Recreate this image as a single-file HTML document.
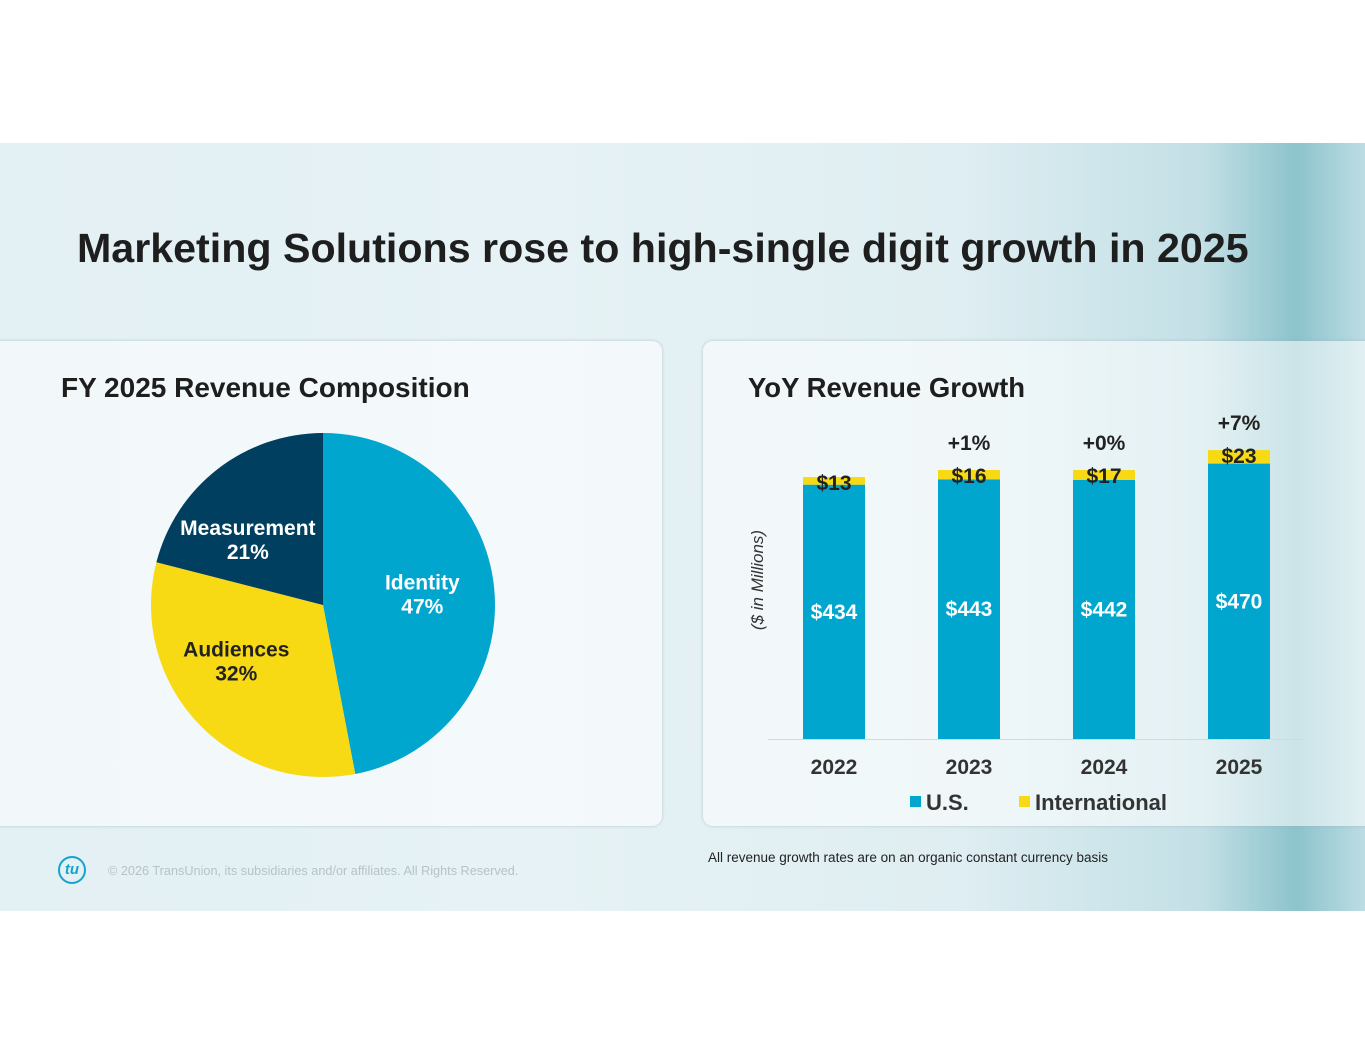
<!DOCTYPE html>
<html><head><meta charset="utf-8"><style>
body{margin:0;width:1365px;height:1055px;background:#fff;position:relative;overflow:hidden;font-family:"Liberation Sans",Arial,sans-serif}
#slide{position:absolute;left:0;top:143px;width:1365px;height:768px;background:linear-gradient(90deg,#e3f0f4 0%,#e6f2f5 40%,#dfeef2 70%,#c3e0e6 88%,#8dc3cc 95%,#bcdde3 100%)}
.panel{position:absolute;top:341px;height:485px;border-radius:10px;background:rgba(255,255,255,0.55);box-shadow:0 0 3px rgba(150,170,180,0.6)}
.t{position:absolute;white-space:nowrap}
</style></head><body>
<div id="slide"></div>
<div class="t" style="left:77px;top:225px;font-size:41.2px;font-weight:bold;color:#1e1e1e">Marketing Solutions rose to high-single digit growth in 2025</div>
<div class="panel" style="left:-10px;width:672px"></div>
<div class="panel" style="left:703px;width:672px"></div>
<div class="t" style="left:61px;top:372px;font-size:28px;font-weight:bold;color:#1e1e1e">FY 2025 Revenue Composition</div>
<div class="t" style="left:748px;top:372px;font-size:27.5px;font-weight:bold;color:#1e1e1e">YoY Revenue Growth</div>
<svg id="pie" style="position:absolute;left:0;top:0" width="700" height="900"></svg>
<svg id="bars" style="position:absolute;left:0;top:0" width="1365" height="900"></svg>
<div class="t" style="left:708px;top:850px;font-size:13.5px;color:#222">All revenue growth rates are on an organic constant currency basis</div>
<div class="t" style="left:108px;top:864px;font-size:12.7px;color:#b5c3c8">© 2026 TransUnion, its subsidiaries and/or affiliates. All Rights Reserved.</div>
<div class="t" style="left:58px;top:856px;width:28px;height:28px;border:2px solid #16a3cc;border-radius:50%;box-sizing:border-box;color:#16a3cc;font-size:15px;font-weight:bold;font-style:italic;text-align:center;line-height:23px">tu</div>
<script>
const NS="http://www.w3.org/2000/svg";
function mk(p,tag,a){const e=document.createElementNS(NS,tag);for(const k in a)e.setAttribute(k,a[k]);p.appendChild(e);return e;}
// Pie data
const segNames=["Identity","Audiences","Measurement"];
const segPct=[47,32,21];
const segColors=["#00a6ce","#f7d914","#003f5f"];
const segLabelColors=["#fff","#222","#fff"];
const labelShift=[[0,-2],[-14,-13],[6,13]];
const pie=document.getElementById('pie');
const cx=323,cy=605,r=172;
let a0=-Math.PI/2;
const total=segPct.reduce((s,v)=>s+v,0);
segPct.forEach((v,i)=>{
  const a1=a0+v/total*2*Math.PI;
  const x0=cx+r*Math.cos(a0),y0=cy+r*Math.sin(a0),x1=cx+r*Math.cos(a1),y1=cy+r*Math.sin(a1);
  const p=mk(pie,'path',{d:`M${cx},${cy}L${x0},${y0}A${r},${r} 0 ${a1-a0>Math.PI?1:0} 1 ${x1},${y1}Z`,fill:segColors[i]});
  
  
  const am=(a0+a1)/2,lr=r*0.58;
  const lx=cx+lr*Math.cos(am)+(i==2?-20:0)+labelShift[i][0],ly=cy+lr*Math.sin(am)+labelShift[i][1];
  const t=mk(pie,'text',{x:lx,y:ly-4,'text-anchor':'middle','font-size':21,'font-weight':'bold',fill:segLabelColors[i]});
  
  
  mk(t,'tspan',{x:lx,dy:0}).textContent=segNames[i];
  mk(t,'tspan',{x:lx,dy:24}).textContent=v+'%';
  a0=a1;
});
// Bar data
const years=["2022","2023","2024","2025"];
const usVals=[434,443,442,470];
const intlVals=[13,16,17,23];
const growth=["","+1%","+0%","+7%"];
const svg=document.getElementById('bars');
const base=739,scale=0.586,x0b=834,step=135,bw=62;
const X=i=>x0b+i*step, Y=v=>base-v*scale;
const ax=mk(svg,'line',{x1:768,x2:1305,y1:base+0.5,y2:base+0.5,stroke:'#d0dbe0','stroke-width':1});


years.forEach((y,i)=>{
  const us=mk(svg,'rect',{x:X(i)-bw/2,y:Y(usVals[i]),width:bw,height:usVals[i]*scale,fill:'#00a6ce'});
  
  
  const it=mk(svg,'rect',{x:X(i)-bw/2,y:Y(usVals[i]+intlVals[i]),width:bw,height:intlVals[i]*scale,fill:'#f7d914'});
  
  
  const l1=mk(svg,'text',{x:X(i),y:Y(usVals[i]/2)+7,'text-anchor':'middle','font-size':21,'font-weight':'bold',fill:'#fff'});
  l1.textContent='$'+usVals[i];
  
  
  const l2=mk(svg,'text',{x:X(i),y:Y(usVals[i]+intlVals[i])+13,'text-anchor':'middle','font-size':21,'font-weight':'bold',fill:'#222'});
  l2.textContent='$'+intlVals[i];
  
  
  if(growth[i]){const g=mk(svg,'text',{x:X(i),y:Y(usVals[i]+intlVals[i])-20,'text-anchor':'middle','font-size':21,'font-weight':'bold',fill:'#222'});
    g.textContent=growth[i];
    
    }
  const yl=mk(svg,'text',{x:X(i),y:774,'text-anchor':'middle','font-size':21,'font-weight':'bold',fill:'#333'});
  yl.textContent=y;
  
  
});
const yt=mk(svg,'text',{x:0,y:0,transform:'translate(763,580) rotate(-90)','text-anchor':'middle','font-size':17,'font-style':'italic',fill:'#333'});
yt.textContent='($ in Millions)';


const lg=[["U.S.","#00a6ce",910],["International","#f7d914",1019]];
lg.forEach(([n,c,x])=>{
  const g=mk(svg,'g',{});
  
  
  mk(g,'rect',{x:x,y:796,width:11,height:11,fill:c});
  mk(g,'text',{x:x+16,y:810,'font-size':22,'font-weight':'bold',fill:'#333'}).textContent=n;
});
</script>
</body></html>
